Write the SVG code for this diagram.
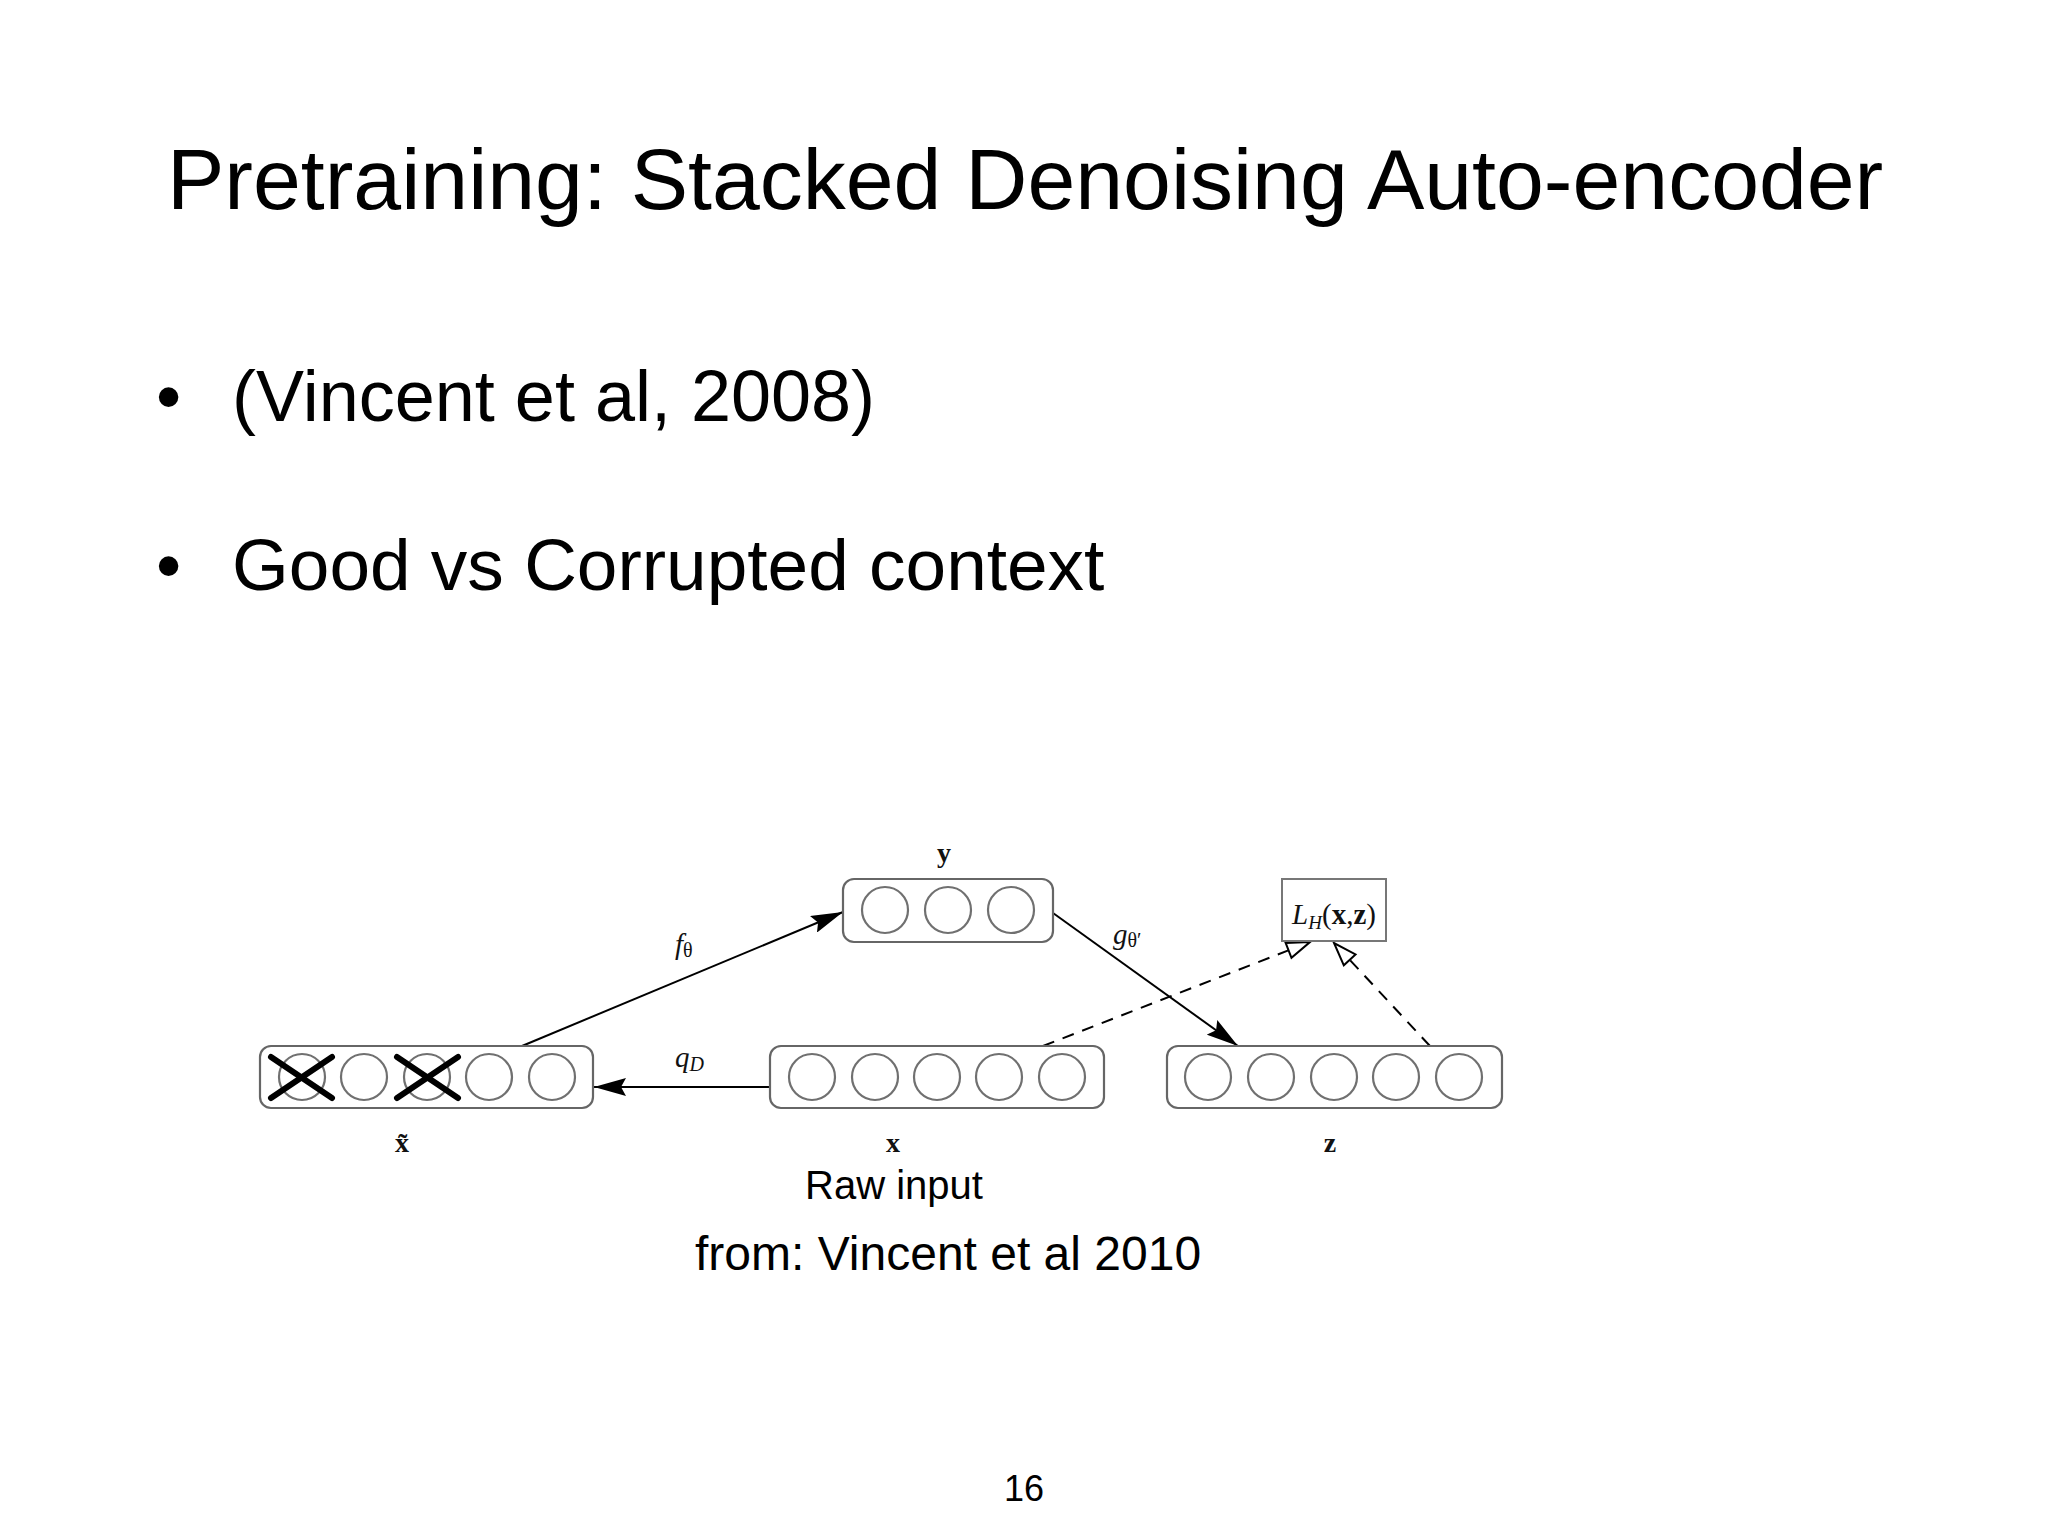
<svg xmlns="http://www.w3.org/2000/svg" width="2048" height="1536" viewBox="0 0 2048 1536">
<defs>
<style>
.sans{font-family:"Liberation Sans","Helvetica Neue",Arial,sans-serif;fill:#000}
.lbl{font-family:"Liberation Serif","DejaVu Serif",serif;fill:#111;font-size:28px;font-weight:bold;text-anchor:middle}
.mth{font-family:"Liberation Serif","DejaVu Serif",serif;fill:#111;font-size:29px;font-style:italic}
.box{fill:#fff;stroke:#666;stroke-width:2.2}
.unit{fill:none;stroke:#707070;stroke-width:2.2}
.cross{stroke:#000;stroke-width:6;stroke-linecap:round}
.edge{stroke:#000;stroke-width:2;fill:none}
.dash{stroke:#000;stroke-width:2;fill:none;stroke-dasharray:12 9}
</style>
<marker id="solid" viewBox="0 0 32 18" refX="32" refY="9" markerWidth="32" markerHeight="18" markerUnits="userSpaceOnUse" orient="auto">
<path d="M0,0 L32,9 L0,18 L5,9 z" fill="#000"/>
</marker>
<marker id="open" viewBox="-2 -2 27 20" refX="23" refY="8" markerWidth="27" markerHeight="20" markerUnits="userSpaceOnUse" orient="auto">
<path d="M0,0 L23,8 L0,16 z" fill="#fff" stroke="#000" stroke-width="2"/>
</marker>
</defs>
<rect width="2048" height="1536" fill="#fff"/>

<text class="sans" x="167" y="209" font-size="86">Pretraining: Stacked Denoising Auto-encoder</text>
<text class="sans" x="156" y="421" font-size="72">•</text>
<text class="sans" x="232" y="421" font-size="72">(Vincent et al, 2008)</text>
<text class="sans" x="156" y="590" font-size="72">•</text>
<text class="sans" x="232" y="590" font-size="73">Good vs Corrupted context</text>

<g id="connectors">
<line class="edge" x1="522" y1="1046" x2="843" y2="912" marker-end="url(#solid)"/>
<line class="edge" x1="1053" y1="913" x2="1238" y2="1046" marker-end="url(#solid)"/>
<line class="edge" x1="770" y1="1087" x2="594" y2="1087" marker-end="url(#solid)"/>
<line class="dash" x1="1043" y1="1046" x2="1310" y2="942" marker-end="url(#open)"/>
<line class="dash" x1="1430" y1="1046" x2="1334" y2="943" marker-end="url(#open)"/>
<text class="mth" x="675" y="954">f<tspan font-style="normal" font-size="20" dy="3">θ</tspan></text>
<text class="mth" x="1113" y="944">g<tspan font-style="normal" font-size="20" dy="3">θ′</tspan></text>
<text class="mth" x="675" y="1067">q<tspan font-size="20" dy="4">D</tspan></text>
</g>

<g id="node-xtilde">
<rect class="box" x="260" y="1046" width="333" height="62" rx="11"/>
<circle class="unit" cx="302" cy="1077" r="23"/>
<circle class="unit" cx="364" cy="1077" r="23"/>
<circle class="unit" cx="427" cy="1077" r="23"/>
<circle class="unit" cx="489" cy="1077" r="23"/>
<circle class="unit" cx="552" cy="1077" r="23"/>
<line class="cross" x1="271" y1="1057" x2="332" y2="1098"/>
<line class="cross" x1="271" y1="1098" x2="332" y2="1057"/>
<line class="cross" x1="397" y1="1057" x2="458" y2="1098"/>
<line class="cross" x1="397" y1="1098" x2="458" y2="1057"/>
<text class="lbl" x="402" y="1152">x̃</text>
</g>

<g id="node-x">
<rect class="box" x="770" y="1046" width="334" height="62" rx="11"/>
<circle class="unit" cx="812" cy="1077" r="23"/>
<circle class="unit" cx="875" cy="1077" r="23"/>
<circle class="unit" cx="937" cy="1077" r="23"/>
<circle class="unit" cx="999" cy="1077" r="23"/>
<circle class="unit" cx="1062" cy="1077" r="23"/>
<text class="lbl" x="893" y="1152">x</text>
</g>

<g id="node-z">
<rect class="box" x="1167" y="1046" width="335" height="62" rx="11"/>
<circle class="unit" cx="1208" cy="1077" r="23"/>
<circle class="unit" cx="1271" cy="1077" r="23"/>
<circle class="unit" cx="1334" cy="1077" r="23"/>
<circle class="unit" cx="1396" cy="1077" r="23"/>
<circle class="unit" cx="1459" cy="1077" r="23"/>
<text class="lbl" x="1330" y="1152">z</text>
</g>

<g id="node-y">
<rect class="box" x="843" y="879" width="210" height="63" rx="11"/>
<circle class="unit" cx="885" cy="910" r="23"/>
<circle class="unit" cx="948" cy="910" r="23"/>
<circle class="unit" cx="1011" cy="910" r="23"/>
<text class="lbl" x="944" y="862">y</text>
</g>

<g id="node-loss">
<rect x="1282" y="879" width="104" height="62" fill="#fff" stroke="#777" stroke-width="2"/>
<text class="mth" x="1334" y="924" text-anchor="middle">L<tspan font-size="19" dy="5">H</tspan><tspan font-style="normal" dy="-5">(</tspan><tspan font-style="normal" font-weight="bold">x</tspan><tspan font-style="normal">,</tspan><tspan font-style="normal" font-weight="bold">z</tspan><tspan font-style="normal">)</tspan></text>
</g>

<text class="sans" x="805" y="1199" font-size="40">Raw input</text>
<text class="sans" x="695" y="1270" font-size="48">from: Vincent et al 2010</text>
<text class="sans" x="1024" y="1501" font-size="36" text-anchor="middle">16</text>
</svg>
